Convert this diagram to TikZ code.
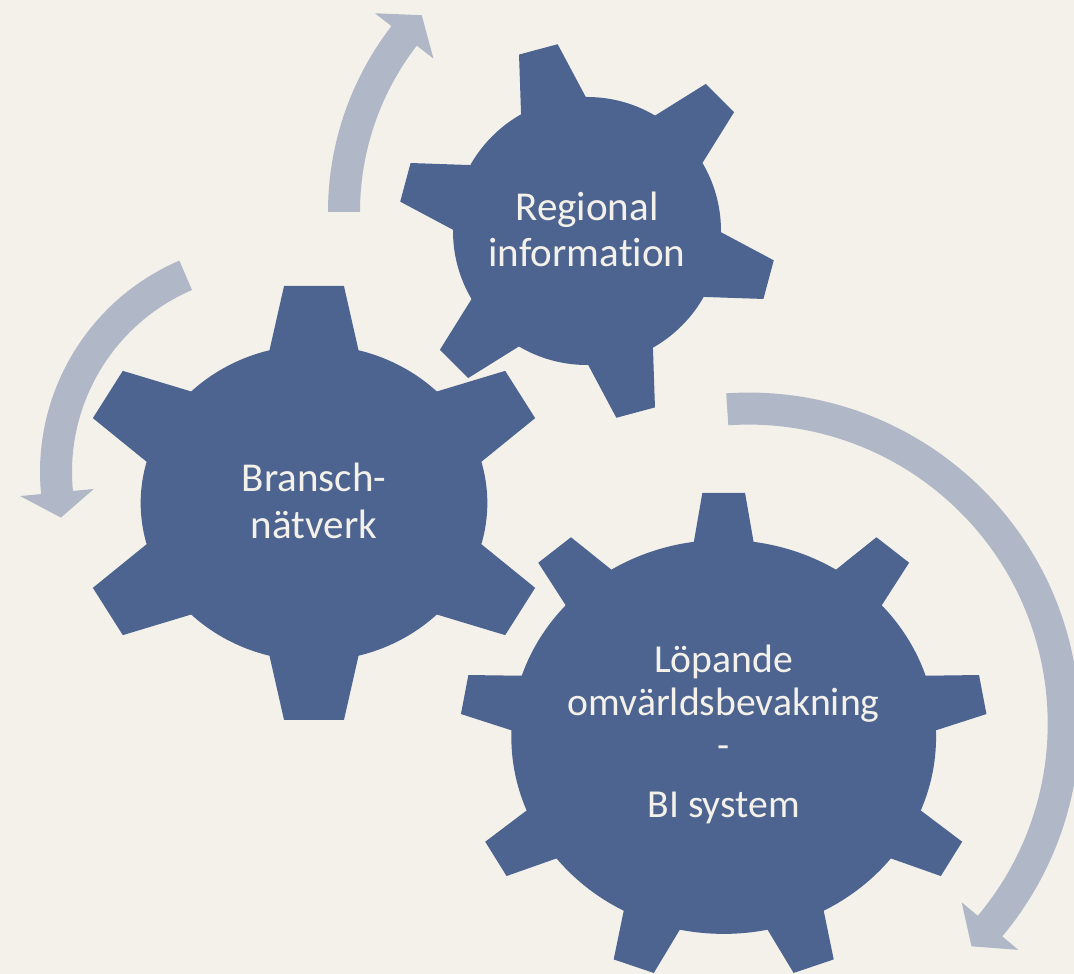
\documentclass[tikz,border=0pt]{standalone}
\usepackage{fontspec}
\setmainfont{Carlito}[Ligatures=NoCommon]
\usetikzlibrary{calc}

\definecolor{bgcream}{HTML}{F3F1EA}
\definecolor{gearblue}{HTML}{4D6490}
\definecolor{arrowgray}{HTML}{B0B7C7}
\definecolor{labelwhite}{HTML}{F3F1EA}

\tikzset{
  gearfill/.style={fill=gearblue},
  arrowfill/.style={fill=arrowgray},
  gearlabel/.style={text=labelwhite, align=center, anchor=base, inner sep=0pt},
}

% gear round the origin: teeth, first tooth angle, tip radius, body radius,
% half width at the tip, half width at the root
\newcommand{\gearshape}[6]{%
  \fill[gearfill] (0,0) circle[radius=#4];
  \pgfmathsetmacro{\rootr}{10*sqrt((#4/10)^2-(#6/10)^2)}
  \foreach \k in {1,...,#1}{
    \fill[gearfill, rotate={#2+360/#1*(\k-1)}]
      (0,-#6) -- (\rootr,-#6) -- (#3,-#5) -- (#3,#5) -- (\rootr,#6) -- (0,#6) -- cycle;
  }
}

% circular arrow round the origin: mid radius, tail angle, head angle, tip angle
\newcommand{\circarrow}[4]{%
  \fill[arrowfill] ({#2}:{#1+16}) arc[start angle=#2, end angle=#3, radius={#1+16}]
    -- ({#3}:{#1+37}) -- ({#4}:{#1}) -- ({#3}:{#1-37}) -- ({#3}:{#1-16})
    arc[start angle=#3, end angle=#2, radius={#1-16}] -- cycle;
}

\begin{document}
\begin{tikzpicture}[x=0.025cm, y=0.025cm]
  \fill[bgcream] (0,0) rectangle (1074,974);
  \useasboundingbox (0,0) rectangle (1074,974);
  \clip (0,0) rectangle (1074,974);

  % arrows
  \begin{scope}[shift={(632,762)}]
    \circarrow{288}{180}{142.3}{136.9}
  \end{scope}
  \begin{scope}[shift={(270,502)}]
    \circarrow{214}{113.2}{185.5}{192.3}
  \end{scope}
  \begin{scope}[shift={(748.7,250.4)}]
    \circarrow{315}{93.9}{-40}{-45}
  \end{scope}

  % gears
  \begin{scope}[shift={(587,743)}]
    \gearshape{6}{105}{188}{134}{20}{33.5}
  \end{scope}
  \begin{scope}[shift={(314,471)}, xscale=1.097]
    \gearshape{6}{90}{217}{158}{27.3}{40.6}
  \end{scope}
  \begin{scope}[shift={(723.7,237.1)}, xscale=1.078]
    \gearshape{9}{90}{244}{197}{19.8}{27.7}
  \end{scope}

  % labels (base = last line)
  \node[gearlabel, font=\fontsize{29.2}{33.4}\selectfont] (regional) at (587,707)
    {Regional\\information};
  \node[gearlabel, font=\fontsize{29.2}{33.4}\selectfont] (bransch) at (314,435.7)
    {Bransch-\\nätverk};
  \node[gearlabel, font=\fontsize{28.2}{30.8}\selectfont] (bisystem) at (723.7,156)
    {Löpande\\omvärldsbevakning\\-\\[11.2pt]BI system};
\end{tikzpicture}
\end{document}
